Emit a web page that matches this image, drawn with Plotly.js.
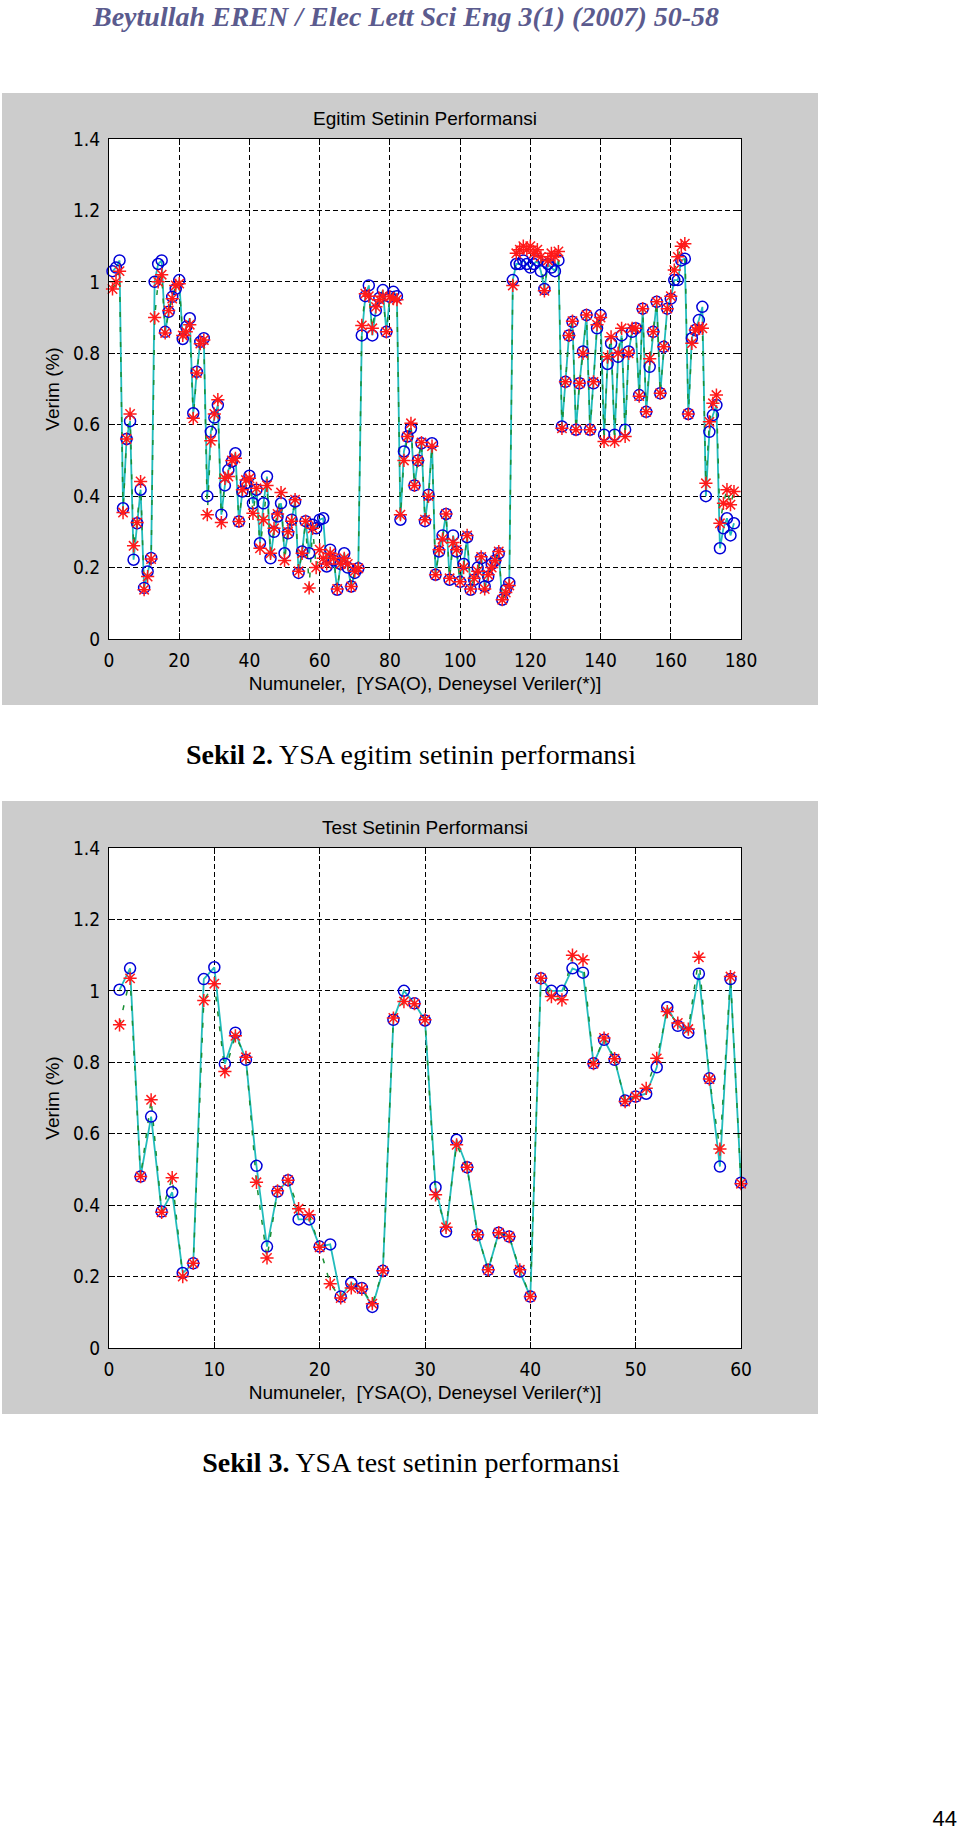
<!DOCTYPE html>
<html>
<head>
<meta charset="utf-8">
<script src="https://cdn.plot.ly/plotly-3.0.1.min.js"></script>
<style>
html, body { margin: 0; padding: 0; background: #ffffff; }
#page { position: relative; width: 960px; height: 1830px; overflow: hidden; background: #ffffff; }
.txt { position: absolute; line-height: 1; white-space: nowrap; transform: translateY(-50%); }
.cap { font-family: 'Liberation Serif', 'Times New Roman', serif; font-size: 28px; color: #000; left: 0; width: 822px; text-align: center; }
.fig { position: absolute; left: 2px; width: 816px; }
</style>
</head>
<body>
<div id="page">
  <div class="txt" style="left:93px; top:17px; font-family:'Liberation Serif','Times New Roman',serif; font-style:italic; font-weight:bold; font-size:28px; color:#5b5b8e;">Beytullah EREN / Elec Lett Sci Eng 3(1) (2007) 50-58</div>
  <div id="fig1" class="fig" style="top:93px; height:612px;"></div>
  <div class="txt cap" style="top:755px;"><b>Sekil 2.</b> YSA egitim setinin performansi</div>
  <div id="fig2" class="fig" style="top:801px; height:613px;"></div>
  <div class="txt cap" style="top:1463px;"><b>Sekil 3.</b> YSA test setinin performansi</div>
  <div class="txt" style="right:3px; top:1819px; font-family:'Liberation Sans', Arial, sans-serif; font-size:22px; color:#000;">44</div>
</div>
<script>
// ---------- Data: training set (Sekil 2) ----------
const trainYSA = [
  1.03, 1.04, 1.06, 0.366, 0.56, 0.61, 0.222, 0.324, 0.418, 0.143,
  0.189, 0.227, 1.0, 1.05, 1.06, 0.86, 0.916, 0.958, 0.98, 1.005,
  0.84, 0.874, 0.898, 0.632, 0.748, 0.832, 0.842, 0.40, 0.58, 0.62,
  0.655, 0.348, 0.43, 0.473, 0.497, 0.52, 0.329, 0.413, 0.436, 0.457,
  0.38, 0.418, 0.268, 0.38, 0.455, 0.226, 0.30, 0.343, 0.38, 0.24,
  0.296, 0.334, 0.385, 0.185, 0.245, 0.33, 0.24, 0.32, 0.31, 0.334,
  0.338, 0.203, 0.25, 0.22, 0.138, 0.21, 0.24, 0.20, 0.147, 0.185,
  0.198, 0.85, 0.96, 0.99, 0.85, 0.92, 0.955, 0.977, 0.86, 0.958,
  0.972, 0.96, 0.334, 0.525, 0.567, 0.59, 0.43, 0.50, 0.548, 0.33,
  0.404, 0.548, 0.18, 0.245, 0.29, 0.35, 0.166, 0.29, 0.245, 0.16,
  0.21, 0.285, 0.138, 0.166, 0.20, 0.226, 0.147, 0.175, 0.21, 0.22,
  0.24, 0.11, 0.138, 0.157, 1.005, 1.05, 1.05, 1.06, 1.05, 1.04,
  1.05, 1.06, 1.03, 0.98, 1.05, 1.04, 1.03, 1.06, 0.595, 0.72,
  0.85, 0.888, 0.586, 0.716, 0.805, 0.907, 0.586, 0.716, 0.87, 0.907,
  0.572, 0.77, 0.828, 0.572, 0.79, 0.85, 0.586, 0.805, 0.86, 0.87,
  0.683, 0.925, 0.636, 0.762, 0.86, 0.944, 0.688, 0.818, 0.925, 0.953,
  1.005, 1.005, 1.06, 1.065, 0.63, 0.842, 0.865, 0.893, 0.93, 0.40,
  0.58, 0.627, 0.655, 0.254, 0.31, 0.338, 0.29, 0.324
];
const trainExp = [
  0.98, 1.00, 1.03, 0.354, 0.56, 0.63, 0.261, 0.326, 0.441, 0.138,
  0.175, 0.224, 0.90, 1.0, 1.02, 0.857, 0.92, 0.953, 0.99, 0.995,
  0.85, 0.86, 0.88, 0.618, 0.745, 0.827, 0.837, 0.348, 0.555, 0.63,
  0.67, 0.326, 0.45, 0.455, 0.50, 0.506, 0.329, 0.418, 0.445, 0.45,
  0.352, 0.422, 0.254, 0.334, 0.43, 0.24, 0.31, 0.35, 0.41, 0.22,
  0.30, 0.33, 0.39, 0.19, 0.24, 0.33, 0.143, 0.31, 0.20, 0.25,
  0.226, 0.21, 0.24, 0.226, 0.14, 0.21, 0.226, 0.21, 0.147, 0.19,
  0.198, 0.878, 0.967, 0.96, 0.87, 0.93, 0.95, 0.96, 0.86, 0.958,
  0.953, 0.95, 0.348, 0.50, 0.567, 0.604, 0.43, 0.50, 0.55, 0.334,
  0.40, 0.54, 0.18, 0.25, 0.28, 0.35, 0.17, 0.27, 0.25, 0.16,
  0.20, 0.29, 0.14, 0.17, 0.19, 0.23, 0.14, 0.18, 0.20, 0.22,
  0.245, 0.11, 0.13, 0.15, 0.99, 1.08, 1.09, 1.10, 1.09, 1.10,
  1.08, 1.09, 1.07, 0.975, 1.06, 1.08, 1.07, 1.085, 0.59, 0.72,
  0.85, 0.89, 0.586, 0.716, 0.80, 0.907, 0.586, 0.72, 0.88, 0.90,
  0.553, 0.79, 0.846, 0.553, 0.80, 0.87, 0.567, 0.80, 0.87, 0.87,
  0.68, 0.925, 0.636, 0.785, 0.86, 0.944, 0.688, 0.818, 0.925, 0.96,
  1.033, 1.07, 1.10, 1.107, 0.63, 0.828, 0.865, 0.87, 0.87, 0.436,
  0.608, 0.66, 0.683, 0.324, 0.38, 0.418, 0.376, 0.413
];

// ---------- Data: test set (Sekil 3) ----------
const testYSA = [
  1.003, 1.063, 0.48, 0.648, 0.382, 0.436, 0.21, 0.237, 1.033, 1.066,
  0.796, 0.883, 0.807, 0.51, 0.284, 0.438, 0.47, 0.36, 0.36, 0.284,
  0.29, 0.144, 0.182, 0.168, 0.115, 0.216, 0.919, 1.0, 0.965, 0.917,
  0.45, 0.326, 0.583, 0.506, 0.317, 0.219, 0.323, 0.312, 0.214, 0.144,
  1.035, 1.0, 1.0, 1.063, 1.051, 0.797, 0.863, 0.807, 0.693, 0.704,
  0.712, 0.786, 0.954, 0.902, 0.883, 1.048, 0.755, 0.508, 1.033, 0.463
];
const testExp = [
  0.905, 1.035, 0.48, 0.695, 0.38, 0.477, 0.20, 0.237, 0.973, 1.02,
  0.774, 0.874, 0.814, 0.464, 0.252, 0.44, 0.47, 0.39, 0.373, 0.282,
  0.18, 0.14, 0.168, 0.165, 0.124, 0.216, 0.924, 0.97, 0.964, 0.919,
  0.429, 0.338, 0.569, 0.506, 0.317, 0.219, 0.323, 0.312, 0.219, 0.144,
  1.035, 0.984, 0.975, 1.10, 1.087, 0.796, 0.868, 0.81, 0.69, 0.704,
  0.727, 0.811, 0.942, 0.91, 0.893, 1.094, 0.753, 0.557, 1.04, 0.46
];

// ---------- Ticks and labels ----------
const yTicks = [0, 0.2, 0.4, 0.6, 0.8, 1.0, 1.2, 1.4];
const yTickText = ['0', '0.2', '0.4', '0.6', '0.8', '1', '1.2', '1.4'];
const x1Ticks = [0, 20, 40, 60, 80, 100, 120, 140, 160, 180];
const x2Ticks = [0, 10, 20, 30, 40, 50, 60];
const title1 = 'Egitim Setinin Performansi';
const title2 = 'Test Setinin Performansi';
const xTitle = 'Numuneler,  [YSA(O), Deneysel Veriler(*)]';
const yTitle = 'Verim (%)';

// ---------- Styling ----------
const SANS = "'Liberation Sans', Arial, sans-serif";
const NARROW = "'Liberation Sans Narrow', 'Arial Narrow', 'DejaVu Sans Condensed', sans-serif";

function traces(ysa, exp) {
  const xs = ysa.map((_, i) => i + 1);
  return [
    { x: xs, y: ysa, type: 'scatter', mode: 'lines', cliponaxis: false,
      line: { color: '#22bcbc', width: 1.8 }, hoverinfo: 'skip' },
    { x: xs, y: exp, type: 'scatter', mode: 'lines', cliponaxis: false,
      line: { color: '#1a8f35', width: 1.5, dash: '5px,10px' }, hoverinfo: 'skip' },
    { x: xs, y: ysa, type: 'scatter', mode: 'markers', name: 'YSA', cliponaxis: false,
      marker: { symbol: 'circle-open', size: 11, color: '#0000d8', line: { width: 1.5, color: '#0000d8' } } },
    { x: xs, y: exp, type: 'scatter', mode: 'markers', name: 'Deneysel', cliponaxis: false,
      marker: { symbol: 'asterisk-open', size: 11, color: '#ff1a1a', line: { width: 1.5, color: '#ff1a1a' } } }
  ];
}

function axisCommon() {
  return {
    showline: true, linecolor: '#000', linewidth: 1, mirror: 'ticks',
    ticks: 'inside', ticklen: 6, tickcolor: '#000', tickwidth: 1,
    showgrid: true, gridcolor: '#000', gridwidth: 1, griddash: '5px,3px',
    zeroline: false, fixedrange: true,
    tickfont: { family: NARROW, size: 19, color: '#000' }
  };
}

function makeLayout(title, xTicks, xMax, h, titleTop, mt) {
  return {
    width: 816, height: h,
    paper_bgcolor: '#cccccc', plot_bgcolor: '#ffffff',
    showlegend: false,
    margin: { l: 107, r: 77, t: mt, b: 66, pad: 0 },
    title: {
      text: title, font: { family: SANS, size: 19, color: '#000' },
      xref: 'paper', x: 0.5, xanchor: 'center',
      yref: 'container', y: 1 - titleTop / h, yanchor: 'middle'
    },
    xaxis: Object.assign(axisCommon(), {
      range: [0, xMax], tickmode: 'array', tickvals: xTicks,
      ticktext: xTicks.map(String), ticklabelstandoff: 4,
      title: { text: xTitle, font: { family: SANS, size: 19, color: '#000' }, standoff: 6 }
    }),
    yaxis: Object.assign(axisCommon(), {
      range: [0, 1.4], tickmode: 'array', tickvals: yTicks, ticktext: yTickText,
      ticklabelstandoff: 4,
      title: { text: yTitle, font: { family: SANS, size: 19, color: '#000' }, standoff: 8 }
    })
  };
}

const config = { staticPlot: true, displayModeBar: false };
Plotly.newPlot('fig1', traces(trainYSA, trainExp), makeLayout(title1, x1Ticks, 180, 612, 25, 45.5), config);
Plotly.newPlot('fig2', traces(testYSA, testExp), makeLayout(title2, x2Ticks, 60, 613, 26, 47), config);
</script>
</body>
</html>
